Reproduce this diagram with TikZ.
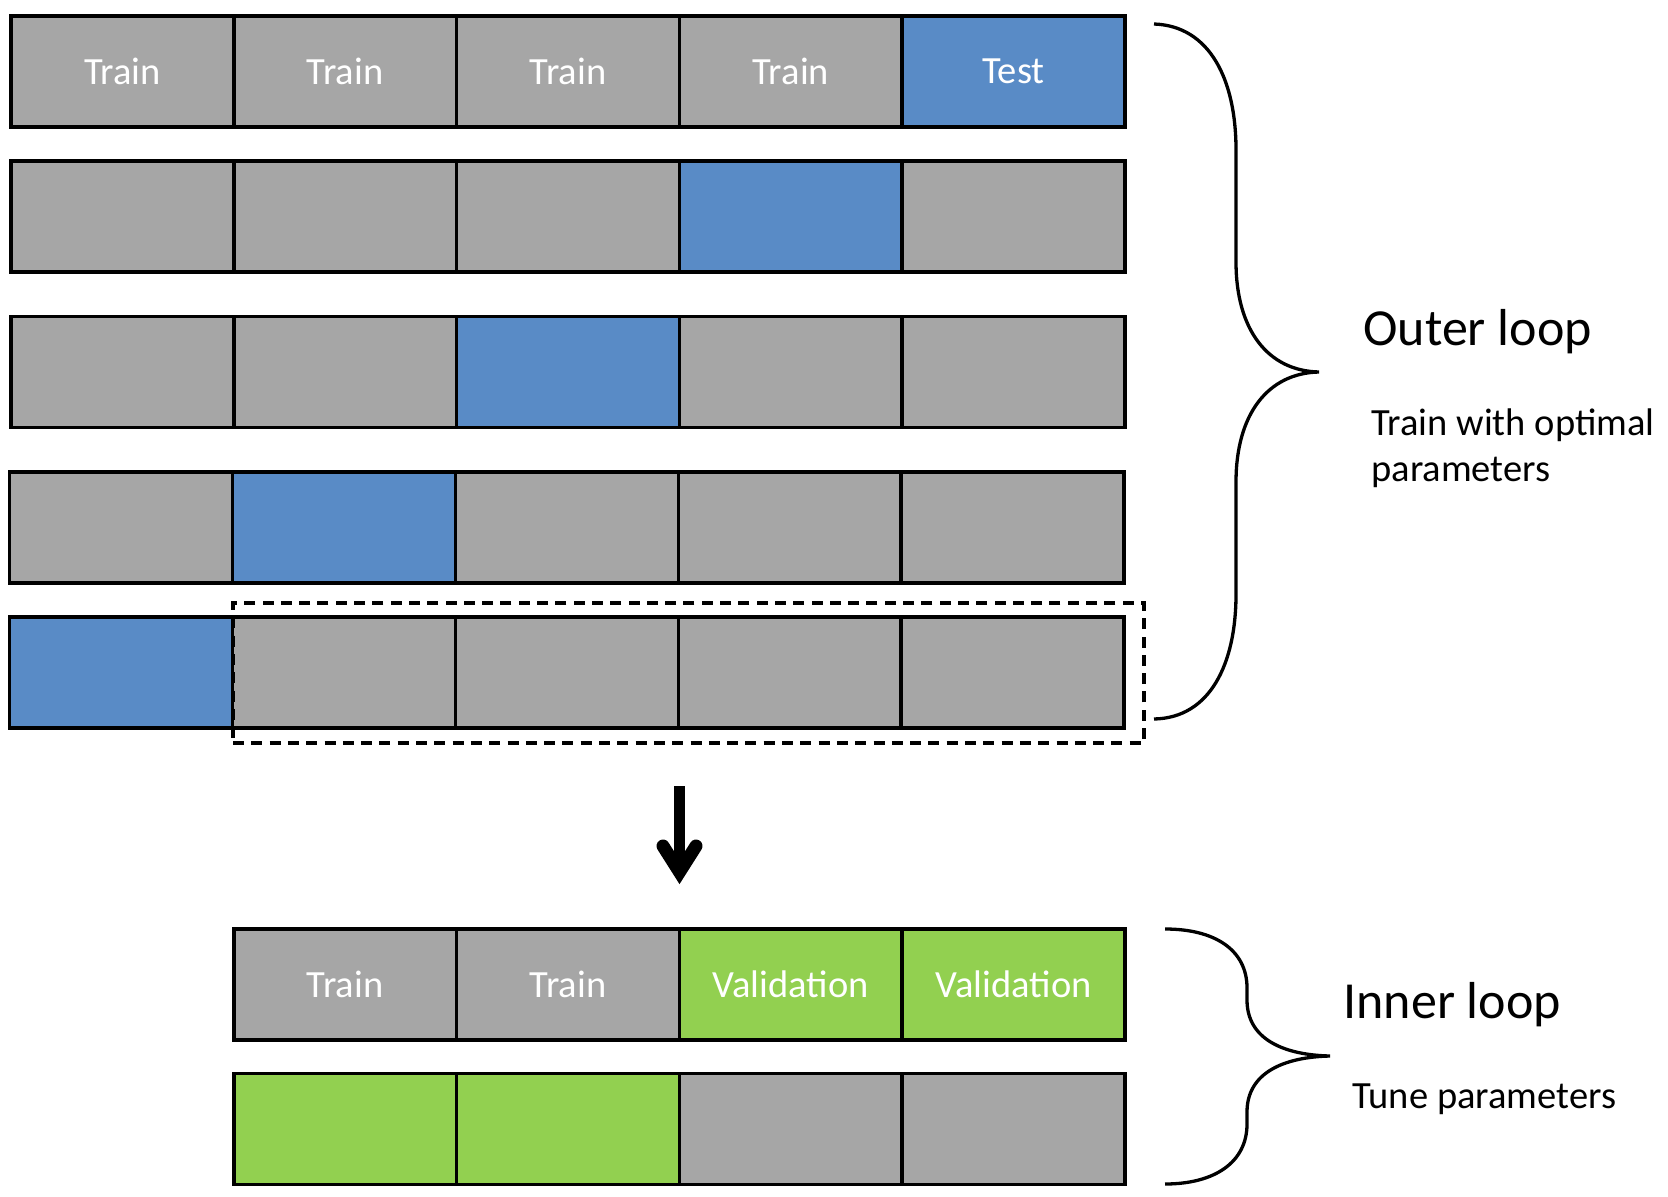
\documentclass[tikz,border=0pt]{standalone}
\usepackage{fontspec}
\setmainfont{Carlito}
\definecolor{cellgray}{RGB}{166,166,166}
\definecolor{cellblue}{RGB}{89,139,198}
\definecolor{cellgreen}{RGB}{146,208,80}
\begin{document}
\begin{tikzpicture}[x=0.5pt,y=-0.5pt,
  cell/.style={draw=black, line width=1.75pt, minimum width=111.4pt, minimum height=55.5pt,
    inner sep=0pt, text=white, font=\fontsize{19.25pt}{23pt}\selectfont},
  graycell/.style={cell, fill=cellgray},
  bluecell/.style={cell, fill=cellblue},
  greencell/.style={cell, fill=cellgreen},
  bracecurve/.style={draw=black, line width=1.65pt},
  dashbox/.style={draw=black, line width=1.75pt, dash pattern=on 5.5pt off 3.65pt,
    minimum width=455.5pt, minimum height=70pt, inner sep=0pt},
  bigtext/.style={anchor=base west, inner sep=0pt, font=\fontsize{26pt}{31pt}\selectfont},
  smalltext/.style={anchor=base west, inner sep=0pt, font=\fontsize{19.25pt}{23pt}\selectfont},
  arrowshaft/.style={draw=black, line width=5.3pt},
  arrowhead/.style={draw=black, line width=6.5pt, line join=miter, line cap=round}
]
\useasboundingbox (0,0) rectangle (1668,1197);

% outer rows
\node[graycell] (o11) at (122.4,71.6) {Train};
\node[graycell] (o12) at (345.2,71.6) {Train};
\node[graycell] (o13) at (568,71.6) {Train};
\node[graycell] (o14) at (790.8,71.6) {Train};
\node[bluecell] (o15) at (1013.6,71.6) {Test};

\node[graycell] (o21) at (122.4,216.5) {};
\node[graycell] (o22) at (345.2,216.5) {};
\node[graycell] (o23) at (568,216.5) {};
\node[bluecell] (o24) at (790.8,216.5) {};
\node[graycell] (o25) at (1013.6,216.5) {};

\node[graycell] (o31) at (122.4,372) {};
\node[graycell] (o32) at (345.2,372) {};
\node[bluecell] (o33) at (568,372) {};
\node[graycell] (o34) at (790.8,372) {};
\node[graycell] (o35) at (1013.6,372) {};

\node[graycell] (o41) at (121,527.5) {};
\node[bluecell] (o42) at (344,527.5) {};
\node[graycell] (o43) at (567,527.5) {};
\node[graycell] (o44) at (790,527.5) {};
\node[graycell] (o45) at (1012.6,527.5) {};

\node[bluecell] (o51) at (121,672.5) {};
\node[graycell] (o52) at (344,672.5) {};
\node[graycell] (o53) at (567,672.5) {};
\node[graycell] (o54) at (790,672.5) {};
\node[graycell] (o55) at (1012.6,672.5) {};

% dashed selection
\node[dashbox] (sel) at (688.5,673) {};

% arrow
\coordinate (arrtop) at (679.5,786);
\coordinate (arrtip) at (679.5,872);
\coordinate (arrl) at (663,846);
\coordinate (arrr) at (696,846);
\draw[arrowshaft] (arrtop) -- (arrtip);
\draw[arrowhead] (arrl) -- (arrtip) -- (arrr);

% inner rows
\node[graycell] (i12) at (345.2,984.5) {Train};
\node[graycell] (i13) at (568,984.5) {Train};
\node[greencell] (i14) at (790.8,984.5) {Validation};
\node[greencell] (i15) at (1013.6,984.5) {Validation};

\node[greencell] (i22) at (345.2,1129) {};
\node[greencell] (i23) at (568,1129) {};
\node[graycell] (i24) at (790.8,1129) {};
\node[graycell] (i25) at (1013.6,1129) {};

% outer brace
\coordinate (ob1) at (1154,24);
\coordinate (ob2) at (1319,372);
\coordinate (ob3) at (1154,719);
\draw[bracecurve] (ob1) .. controls (1210,26) and (1236,80) .. (1236,150)
  -- (1236,262) .. controls (1236,330) and (1268,371) .. (ob2)
  .. controls (1268,373) and (1236,414) .. (1236,482)
  -- (1236,594) .. controls (1236,664) and (1210,718) .. (ob3);

% inner brace
\coordinate (ib1) at (1165,929);
\coordinate (ib2) at (1330,1056);
\coordinate (ib3) at (1165,1184);
\draw[bracecurve] (ib1) .. controls (1215,929) and (1247,950) .. (1247,988)
  -- (1247,1000) .. controls (1247,1040) and (1285,1055) .. (ib2)
  .. controls (1285,1057) and (1247,1072) .. (1247,1112)
  -- (1247,1124) .. controls (1247,1162) and (1215,1184) .. (ib3);

% texts
\node[bigtext] (outerlbl) at (1363,346) {Outer loop};
\node[smalltext] (outerd1) at (1371,436) {Train with optimal};
\node[smalltext] (outerd2) at (1371,481) {parameters};
\node[bigtext] (innerlbl) at (1343,1018) {Inner loop};
\node[smalltext] (innerd) at (1352,1108) {Tune parameters};
\end{tikzpicture}
\end{document}
